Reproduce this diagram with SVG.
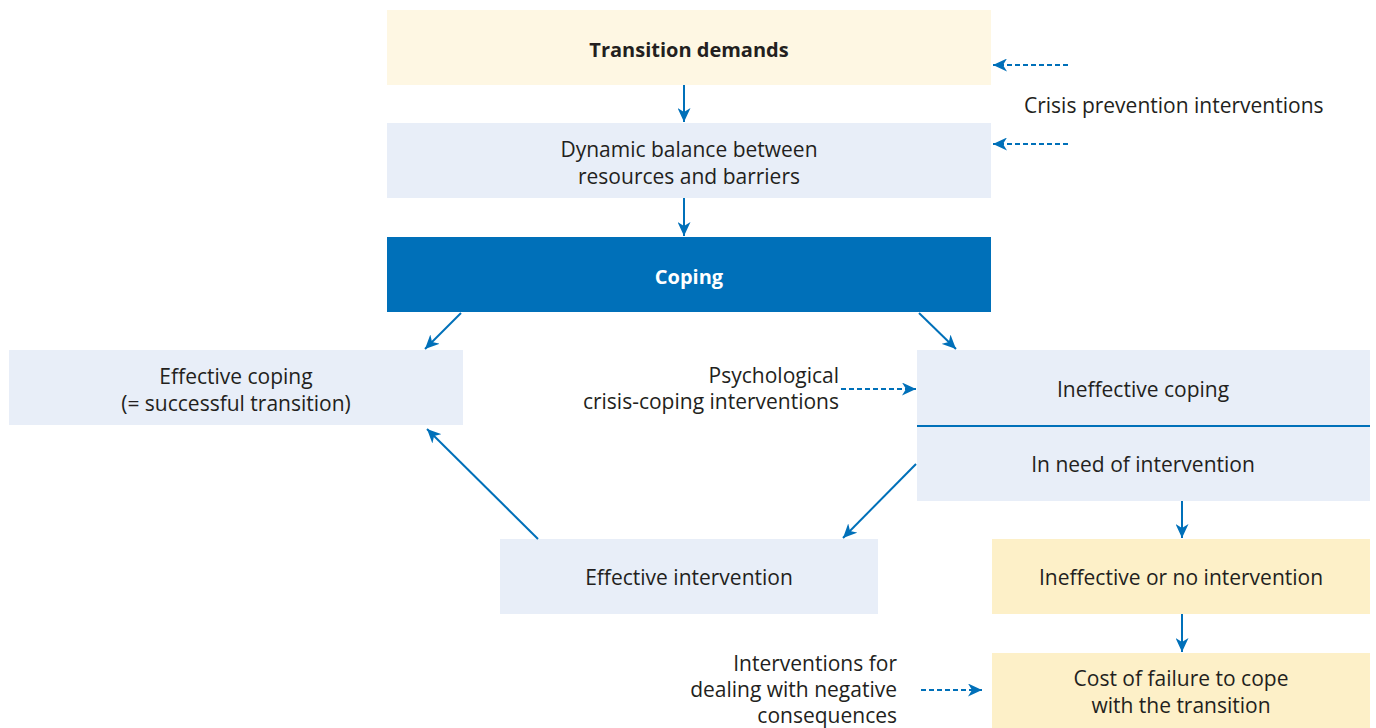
<svg xmlns="http://www.w3.org/2000/svg" width="1376" height="728" viewBox="0 0 1376 728">
<style>
  text { font-family: "Open Sans", Lato, "Liberation Sans", sans-serif; font-size: 21px; fill: #231f20; }
  .c { text-anchor: middle; }
  .r { text-anchor: end; }
  .b { font-weight: bold; font-size: 20px; }
  .w { fill: #ffffff; }
  .cream { fill: #fef7e3; }
  .blue { fill: #e8eef8; }
  .dark { fill: #0070b9; }
  .yellow { fill: #fdf0c8; }
  .ln { stroke: #0070b9; stroke-width: 2; fill: none; }
  .dash { stroke: #0070b9; stroke-width: 2; fill: none; stroke-dasharray: 5 3; }
</style>
<defs>
  <marker id="ah" markerUnits="userSpaceOnUse" markerWidth="15" markerHeight="13" refX="14" refY="6.5" orient="auto">
    <path d="M0,0 L14,6.5 L0,13 L4,6.5 Z" fill="#0070b9"/>
  </marker>
</defs>
<rect width="1376" height="728" fill="#ffffff"/>

<g id="transition-demands">
  <rect class="cream" x="387" y="10" width="604" height="75"/>
  <text class="c b" x="689" y="57">Transition demands</text>
</g>
<g id="dynamic-balance">
  <rect class="blue" x="387" y="123" width="604" height="75"/>
  <text class="c" x="689" y="157">Dynamic balance between</text>
  <text class="c" x="689" y="184">resources and barriers</text>
</g>
<g id="coping">
  <rect class="dark" x="387" y="237" width="604" height="75"/>
  <text class="c b w" x="689" y="284">Coping</text>
</g>
<g id="effective-coping">
  <rect class="blue" x="9" y="350" width="454" height="75"/>
  <text class="c" x="236" y="384">Effective coping</text>
  <text class="c" x="236" y="411">(= successful transition)</text>
</g>
<g id="ineffective-coping">
  <rect class="blue" x="917" y="350" width="453" height="151"/>
  <line x1="917" y1="426" x2="1370" y2="426" stroke="#0070b9" stroke-width="2"/>
  <text class="c" x="1143" y="397">Ineffective coping</text>
  <text class="c" x="1143" y="472">In need of intervention</text>
</g>
<g id="effective-intervention">
  <rect class="blue" x="500" y="539" width="378" height="75"/>
  <text class="c" x="689" y="585">Effective intervention</text>
</g>
<g id="ineffective-intervention">
  <rect class="yellow" x="992" y="539" width="378" height="75"/>
  <text class="c" x="1181" y="585">Ineffective or no intervention</text>
</g>
<g id="cost-of-failure">
  <rect class="yellow" x="992" y="653" width="378" height="75"/>
  <text class="c" x="1181" y="686">Cost of failure to cope</text>
  <text class="c" x="1181" y="713">with the transition</text>
</g>

<g id="labels">
  <text x="1024" y="113">Crisis prevention interventions</text>
  <text class="r" x="839" y="383">Psychological</text>
  <text class="r" x="839" y="409">crisis-coping interventions</text>
  <text class="r" x="897" y="671">Interventions for</text>
  <text class="r" x="897" y="697">dealing with negative</text>
  <text class="r" x="897" y="723">consequences</text>
</g>

<g id="connectors">
  <line class="ln" x1="684" y1="85" x2="684" y2="122" marker-end="url(#ah)"/>
  <line class="ln" x1="684" y1="198" x2="684" y2="236" marker-end="url(#ah)"/>
  <line class="ln" x1="461" y1="313" x2="425" y2="349" marker-end="url(#ah)"/>
  <line class="ln" x1="919" y1="313" x2="956" y2="349" marker-end="url(#ah)"/>
  <line class="ln" x1="916" y1="464" x2="843" y2="538" marker-end="url(#ah)"/>
  <line class="ln" x1="538" y1="539" x2="427" y2="429" marker-end="url(#ah)"/>
  <line class="ln" x1="1182" y1="501" x2="1182" y2="538" marker-end="url(#ah)"/>
  <line class="ln" x1="1182" y1="614" x2="1182" y2="652" marker-end="url(#ah)"/>
  <line class="dash" x1="1068" y1="65" x2="993" y2="65" marker-end="url(#ah)"/>
  <line class="dash" x1="1068" y1="144" x2="993" y2="144" marker-end="url(#ah)"/>
  <line class="dash" x1="841" y1="389" x2="916" y2="389" marker-end="url(#ah)"/>
  <line class="dash" x1="921" y1="690" x2="982" y2="690" marker-end="url(#ah)"/>
</g>
</svg>
